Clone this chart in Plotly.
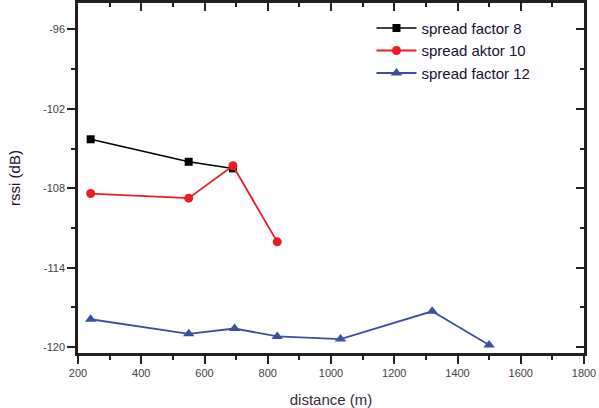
import plotly.graph_objects as go

# Data
sf8_x = [240, 550, 690]
sf8_y = [-104.3, -106.0, -106.5]

sf10_x = [240, 550, 690, 830]
sf10_y = [-108.4, -108.75, -106.3, -112.05]

sf12_x = [240, 550, 695, 830, 1030, 1320, 1500]
sf12_y = [-117.9, -119.0, -118.6, -119.2, -119.4, -117.3, -119.85]

x_ticks = [200, 400, 600, 800, 1000, 1200, 1400, 1600, 1800]
y_ticks = [-96, -102, -108, -114, -120]
y_ticktext = ["-96", "-102", "-108", "-114", "-120"]

X_RANGE = [200, 1800]
Y_RANGE = [-120.45, -94.0]

FONT = "Liberation Sans, Arial, sans-serif"

fig = go.Figure()
fig.add_trace(go.Scatter(
    x=sf8_x, y=sf8_y, mode="lines+markers", name="spread factor 8",
    line=dict(color="#000000", width=1.5),
    marker=dict(symbol="square", size=8, color="#000000")))
fig.add_trace(go.Scatter(
    x=sf10_x, y=sf10_y, mode="lines+markers", name="spread aktor 10",
    line=dict(color="#ed1c24", width=1.8),
    marker=dict(symbol="circle", size=9, color="#ed1c24")))
fig.add_trace(go.Scatter(
    x=sf12_x, y=sf12_y, mode="lines+markers", name="spread factor 12",
    line=dict(color="#3b50a3", width=1.8),
    marker=dict(symbol="triangle-up", size=10, color="#3b50a3")))

# invisible trace to make mirror axes render
fig.add_trace(go.Scatter(x=[X_RANGE[0]], y=[Y_RANGE[0]], xaxis="x2", yaxis="y2",
                         mode="markers", marker=dict(opacity=0), showlegend=False,
                         hoverinfo="skip"))

axis_common = dict(showgrid=False, zeroline=False, showline=True,
                   linecolor="#231f20", linewidth=2.5)

fig.update_layout(
    width=599, height=408,
    margin=dict(l=78, r=15, t=3, b=55),
    paper_bgcolor="white", plot_bgcolor="white",
    font=dict(family=FONT, color="#222222"),
    showlegend=True,
    legend=dict(x=0.58, y=0.975, xanchor="left", yanchor="top",
                bgcolor="rgba(0,0,0,0)", borderwidth=0,
                font=dict(size=15, family=FONT, color="#1a1030"),
                tracegroupgap=0, itemwidth=40),
    xaxis=dict(range=X_RANGE, tickvals=x_ticks, ticks="outside", ticklen=8,
               tickwidth=2, tickcolor="#231f20",
               minor=dict(ticks="outside", ticklen=4, dtick=100, tick0=200,
                          tickwidth=2, tickcolor="#231f20"),
               tickfont=dict(size=11, color="#444444"),
               title=dict(text="distance (m)", font=dict(size=15, color="#3a2a40"),
                          standoff=17),
               **axis_common),
    yaxis=dict(range=Y_RANGE, tickvals=y_ticks, ticktext=y_ticktext,
               ticks="outside", ticklen=8, tickwidth=2, tickcolor="#231f20",
               minor=dict(ticks="outside", ticklen=4, dtick=3, tick0=-120,
                          tickwidth=2, tickcolor="#231f20"),
               tickfont=dict(size=11, color="#444444"),
               title=dict(text="rssi (dB)", font=dict(size=15, color="#1a1030"),
                          standoff=19),
               **axis_common),
    xaxis2=dict(range=X_RANGE, overlaying="x", side="top", tickvals=x_ticks,
                showticklabels=False, ticks="inside", ticklen=8, tickwidth=2,
                tickcolor="#231f20",
                minor=dict(ticks="inside", ticklen=4, dtick=100, tick0=200,
                           tickwidth=2, tickcolor="#231f20"),
                **axis_common),
    yaxis2=dict(range=Y_RANGE, overlaying="y", side="right", tickvals=y_ticks,
                showticklabels=False, ticks="inside", ticklen=8, tickwidth=2,
                tickcolor="#231f20",
                minor=dict(ticks="inside", ticklen=4, dtick=3, tick0=-120,
                           tickwidth=2, tickcolor="#231f20"),
                **axis_common),
)

fig.write_html("out.html", config={"displayModeBar": False},
               post_script="document.body.style.margin='0';document.body.style.padding='0';")
